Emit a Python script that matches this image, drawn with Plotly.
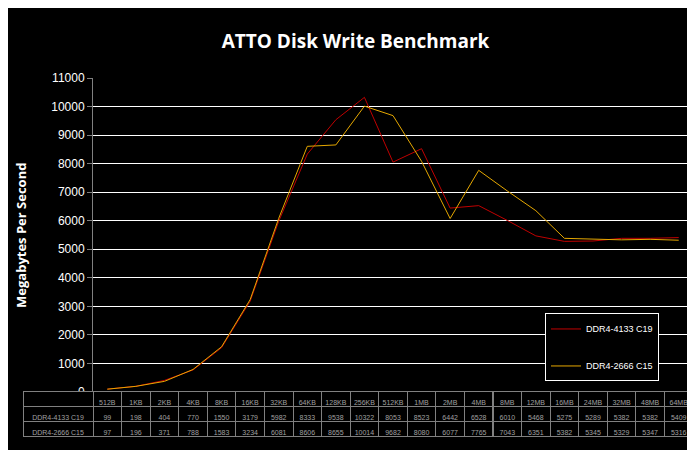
import plotly.graph_objects as go

cats = ["512B","1KB","2KB","4KB","8KB","16KB","32KB","64KB","128KB","256KB","512KB","1MB","2MB","4MB","8MB","12MB","16MB","24MB","32MB","48MB","64MB"]
s1_name = "DDR4-4133 C19"
s1 = [99,198,404,770,1550,3179,5982,8333,9538,10322,8053,8523,6442,6528,6010,5468,5275,5289,5382,5382,5409]
s2_name = "DDR4-2666 C15"
s2 = [97,196,371,788,1583,3234,6081,8606,8655,10014,9682,8080,6077,7765,7043,6351,5382,5345,5329,5347,5316]

H = 450; T = 70; B = 10
ph = H - T - B
ydom0 = (440 - 390) / ph

fig = go.Figure()
xs = list(range(len(cats)))
fig.add_trace(go.Scatter(x=xs, y=s1, name=s1_name, legendgroup="a", mode="lines", line=dict(color="#c00000", width=1)))
fig.add_trace(go.Scatter(x=xs, y=s2, name=s2_name, legendgroup="b", mode="lines", line=dict(color="#e6a800", width=1)))

fnt = dict(color="#a0a0a0", size=7, family="Liberation Sans")
fig.add_trace(go.Table(
    domain=dict(x=[0, 1], y=[0, ydom0]),
    columnwidth=[70] + [600 / 21] * 21,
    header=dict(values=[""] + cats, height=15, fill=dict(color="black"),
                line=dict(color="#808080", width=1), font=fnt, align="center"),
    cells=dict(values=[[s1_name, s2_name]] + [[str(a), str(b)] for a, b in zip(s1, s2)],
               height=15, fill=dict(color="black"), line=dict(color="#808080", width=1),
               font=fnt, align="center"),
))

fig.update_layout(
    width=695, height=H, paper_bgcolor="black", plot_bgcolor="black",
    margin=dict(l=15, r=10, t=T, b=B),
    title=dict(text="<b>ATTO Disk Write Benchmark</b>", x=0.5, y=0.94, xanchor="center",
               font=dict(color="white", size=19, family="Open Sans")),
    xaxis=dict(domain=[70 / 670, 1], range=[-0.5, 20.5], showticklabels=False, showgrid=False,
               zeroline=False, showline=False),
    yaxis=dict(domain=[ydom0, 1], range=[0, 11000], dtick=1000, tickformat="d", gridcolor="white", gridwidth=1,
               tickfont=dict(color="white", size=12, family="Liberation Sans"), zeroline=False,
               showline=True, linecolor="#808080", ticks="outside", tickcolor="#808080"),
    legend=dict(x=(537 - 15) / 670, y=(440 - 310) / ph, xanchor="left", yanchor="top",
                bgcolor="black", bordercolor="white", borderwidth=1,
                font=dict(color="white", size=9, family="Liberation Sans"), tracegroupgap=18),
    showlegend=True,
)
fig.add_annotation(text="<b>Megabytes Per Second</b>", textangle=-90, xref="paper", yref="paper",
                   x=-0.003, y=(ydom0 + 1) / 2, showarrow=False, xanchor="center",
                   font=dict(color="white", size=13, family="Open Sans"))
fig.write_html("out.html")
